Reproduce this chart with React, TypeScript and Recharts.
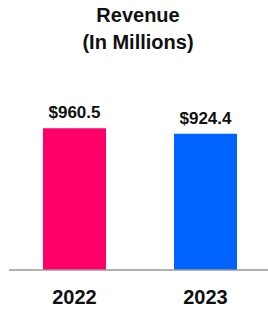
import React from "react";
import { Bar, BarChart, Cell, LabelList, XAxis, YAxis } from "recharts";

const years = ["2022", "2023"];
const revenue = [960.5, 924.4];
const barColors = ["#FF0069", "#0062FF"];

const data = years.map((year, i) => ({ year, revenue: revenue[i] }));

const FONT = "'Liberation Sans', Arial, Helvetica, sans-serif";

export default function App() {
  return (
    <div style={{ position: "absolute", left: 0, top: 0, width: 268, height: 313, background: "#fff" }}>
      <style>{`body{margin:0}`}</style>
      <div
        style={{
          position: "absolute",
          top: 2,
          left: 0,
          width: 276,
          textAlign: "center",
          fontFamily: FONT,
          fontWeight: 700,
          fontSize: 20,
          lineHeight: "27px",
          color: "#111",
        }}
      >
        Revenue
        <br />
        (In Millions)
      </div>
      <BarChart
        width={268}
        height={313}
        data={data}
        margin={{ top: 93, right: -3, bottom: 3, left: 9 }}
      >
        <YAxis hide domain={[0, 1200]} />
        <XAxis
          dataKey="year"
          height={40}
          tickLine={false}
          tickSize={6}
          tickMargin={14}
          axisLine={{ stroke: "#999", strokeWidth: 1.5 }}
          tick={{ fill: "#111", fontSize: 20, fontWeight: 700, fontFamily: FONT }}
        />
        <Bar dataKey="revenue" barSize={63} isAnimationActive={false}>
          {data.map((d, i) => (
            <Cell key={d.year} fill={barColors[i]} />
          ))}
          <LabelList
            dataKey="revenue"
            position="top"
            offset={10}
            formatter={(v: any) => `$${v}`}
            style={{ fill: "#111", fontSize: 17, fontWeight: 700, fontFamily: FONT }}
          />
        </Bar>
      </BarChart>
    </div>
  );
}
